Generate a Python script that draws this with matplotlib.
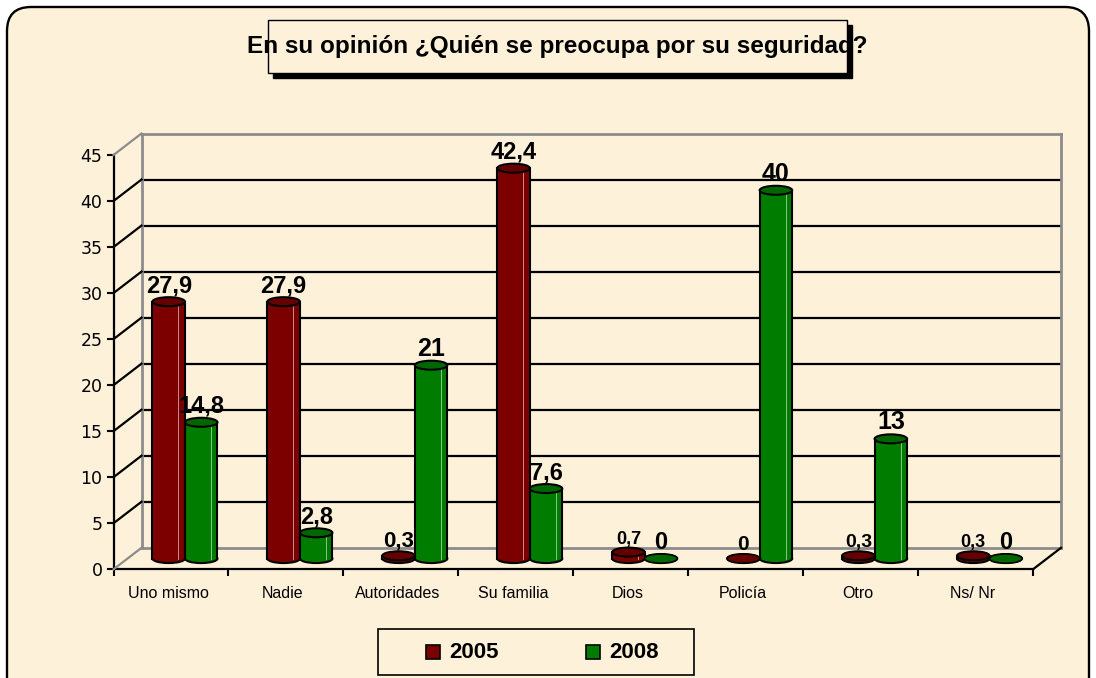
import matplotlib
matplotlib.use("Agg")
import matplotlib.pyplot as plt
from matplotlib.patches import Ellipse, FancyBboxPatch, Rectangle
from matplotlib.transforms import Affine2D
from matplotlib import font_manager as fm

W, H = 1096, 678
categories = ["Uno mismo", "Nadie", "Autoridades", "Su familia", "Dios", "Policía", "Otro", "Ns/ Nr"]
values_2005 = [27.9, 27.9, 0.3, 42.4, 0.7, 0, 0.3, 0.3]
values_2008 = [14.8, 2.8, 21, 7.6, 0, 40, 13, 0]
labels_2005 = ["27,9", "27,9", "0,3", "42,4", "0,7", "0", "0,3", "0,3"]
labels_2008 = ["14,8", "2,8", "21", "7,6", "0", "40", "13", "0"]
label_sizes_2005 = [17, 17, 16, 17, 13, 15, 14, 13]
label_sizes_2008 = [17, 17, 18, 17, 17, 18, 18, 17]
yticks = list(range(0, 50, 5))
series_names = ["2005", "2008"]
title = "En su opinión ¿Quién se preocupa por su seguridad?"

BG = "#fdf1d9"
RED, RED_TOP = "#7d0000", "#660000"
GREEN, GREEN_TOP = "#007d00", "#006600"
GRID = "#000000"
WALL = "#8c8c8c"

names = {f.name for f in fm.fontManager.ttflist}
NARROW = "Liberation Sans Narrow" if "Liberation Sans Narrow" in names else "Liberation Sans"
print(NARROW)

fig = plt.figure(figsize=(W / 100, H / 100), dpi=100, facecolor="white")

# Page layer in pixel units
bgax = fig.add_axes([0, 0, 1, 1], zorder=0)
bgax.set_xlim(0, W); bgax.set_ylim(H, 0); bgax.axis("off")
bgax.add_patch(FancyBboxPatch((7, 7), 1082, 700, boxstyle="round,pad=0,rounding_size=24",
                              fc=BG, ec="black", lw=1.7))
# Title box
bgax.add_patch(Rectangle((273, 25), 579, 53, fc="black", ec="black"))
bgax.add_patch(Rectangle((268, 20), 579, 53, fc=BG, ec="black", lw=1))
bgax.text(557.5, 47, title, ha="center", va="center", fontsize=17.5, fontweight="bold",
          family=NARROW, color="black")
# Legend box
bgax.add_patch(Rectangle((378, 629), 316, 46, fc=BG, ec="black", lw=1.2))
for x0, tx, c, n in [(426, 449, RED, series_names[0]), (586, 609, GREEN, series_names[1])]:
    bgax.add_patch(Rectangle((x0, 645), 14, 14, fc=c, ec="black", lw=1.2))
    bgax.text(tx, 652, n, ha="left", va="center", fontsize=16, fontweight="bold",
              family="Liberation Sans", color="black")

# Chart plane
L, R, T, B = 113.5, 1033, 155, 569.3
ax = fig.add_axes([L / W, 1 - B / H, (R - L) / W, (B - T) / H], zorder=1)
ax.set_xlim(0, len(categories)); ax.set_ylim(0, 45)
ax.patch.set_alpha(0)
DX, DY = 28, 21.5
back = ax.transData + Affine2D().translate(DX, DY)
mid = ax.transData + Affine2D().translate(DX / 2, DY / 2)

# Walls and grid
for y in yticks:
    if y == 0:
        continue
    c = WALL if y == 45 else GRID
    ax.plot([0, 8], [y, y], transform=back, color=c, lw=1.6 if y != 45 else 2, zorder=1, clip_on=False)
    xp0 = ax.transData.transform((0, y))
ax.plot([0, 8], [0, 0], transform=back, color=WALL, lw=2, zorder=1, clip_on=False)
ax.plot([0, 0], [0, 45], transform=back, color=WALL, lw=2, zorder=1, clip_on=False)
ax.plot([8, 8], [0, 45], transform=back, color=WALL, lw=2, zorder=1, clip_on=False)
# Depth lines on the left wall and floor
from matplotlib.lines import Line2D
for y in yticks:
    x0, y0 = ax.transData.transform((0, y))
    col = WALL if y in (0, 45) else GRID
    fig.add_artist(Line2D([x0 / W, (x0 + DX) / W], [y0 / H, (y0 + DY) / H], color=col, lw=1.6, zorder=2))
x0, y0 = ax.transData.transform((8, 0))
fig.add_artist(Line2D([x0 / W, (x0 + DX) / W], [y0 / H, (y0 + DY) / H], color="black", lw=1.6, zorder=2))

# Cylinders
BW = 32.5 / ((R - L) / 8)
EH = 9 / ((B - T) / 45)
def cylinder(xc, v, body, top):
    tf = mid
    ax.add_patch(Ellipse((xc, 0), BW, EH, fc=body, ec="black", lw=1.5, transform=tf, zorder=5, clip_on=False))
    if v <= 0:
        ax.add_patch(Ellipse((xc, 0), BW, EH, fc=top, ec="black", lw=1, transform=tf, zorder=6, clip_on=False))
        return
    ax.bar([xc], [v], width=BW, color=body, linewidth=0, transform=tf, zorder=5, clip_on=False)
    for s in (-1, 1):
        ax.plot([xc + s * BW / 2] * 2, [0, v], color="black", lw=1.5, transform=tf, zorder=6, clip_on=False)
    ax.plot([xc + BW * 0.3] * 2, [0, v], color="white", lw=0.7, alpha=0.55, transform=tf, zorder=6, clip_on=False)
    ax.add_patch(Ellipse((xc, v), BW, EH, fc=top, ec="black", lw=1.5, transform=tf, zorder=7, clip_on=False))

for i, (a, b) in enumerate(zip(values_2005, values_2008)):
    xr = i + 0.5 - BW / 2
    xg = i + 0.5 + BW / 2
    cylinder(xr, a, RED, RED_TOP)
    cylinder(xg, b, GREEN, GREEN_TOP)
    ax.text(xr, a + EH / 2, labels_2005[i], transform=mid, ha="center", va="bottom", fontsize=label_sizes_2005[i],
            fontweight="bold", family=NARROW, color="black", zorder=9)
    ax.text(xg, b + EH / 2, labels_2008[i], transform=mid, ha="center", va="bottom", fontsize=label_sizes_2008[i],
            fontweight="bold", family=NARROW, color="black", zorder=9)

# Axes
for s in ("top", "right"):
    ax.spines[s].set_visible(False)
for s in ("left", "bottom"):
    ax.spines[s].set_linewidth(1.6)
ax.set_yticks(yticks)
ax.set_yticklabels([str(y) for y in yticks], fontsize=12.5, family="DejaVu Sans")
ax.set_xticks(range(len(categories) + 1))
ax.set_xticklabels([""] * (len(categories) + 1))
ax.tick_params(axis="y", length=5, width=1.5, pad=3)
ax.tick_params(axis="x", length=5, width=1.5)
for i, c in enumerate(categories):
    ax.annotate(c, (i + 0.5, 0), xytext=(-3, -24), textcoords="offset pixels", ha="center", va="center",
                fontsize=11.5, family="Liberation Sans", color="black", annotation_clip=False)

fig.savefig("out.png", dpi=100, facecolor="white")
